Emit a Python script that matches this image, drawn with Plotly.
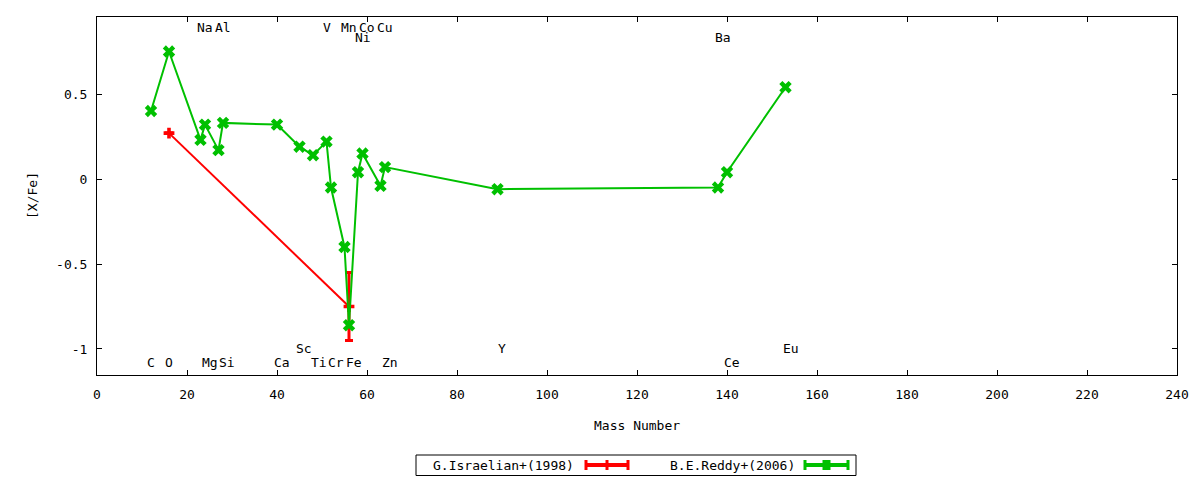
import plotly.graph_objects as go

# B.E.Reddy+(2006)
reddy_mass = [12, 16, 23, 24, 27, 28, 40, 45, 48, 51, 52, 55, 56, 58, 59, 63, 64, 89, 138, 140, 153]
reddy_xfe = [0.40, 0.75, 0.23, 0.32, 0.17, 0.33, 0.32, 0.19, 0.14, 0.22, -0.05, -0.40, -0.86,
             0.04, 0.15, -0.04, 0.07, -0.06, -0.05, 0.04, 0.54]

# G.Israelian+(1998)
isr_mass = [16, 56]
isr_xfe = [0.27, -0.75]
isr_err = [0.0, 0.2]

# element labels: name, x, y
label_names = ["C", "O", "Na", "Mg", "Al", "Si", "Ca", "Sc", "Ti", "V", "Cr", "Mn", "Fe",
               "Ni", "Co", "Cu", "Zn", "Y", "Ba", "Ce", "Eu"]
label_x = [12.1, 16.1, 24.0, 25.1, 27.9, 28.8, 41.1, 45.9, 49.3, 51.0, 53.1, 56.1, 57.1,
           59.1, 60.0, 64.1, 65.1, 89.9, 139.1, 141.0, 154.2]
label_y = [-1.08, -1.08, 0.89, -1.08, 0.89, -1.08, -1.08, -1.0, -1.08, 0.89, -1.08, 0.89, -1.08,
           0.83, 0.89, 0.89, -1.08, -1.0, 0.83, -1.08, -1.0]

RED = "#ff0000"
GREEN = "#00c000"
FONT = dict(family="DejaVu Sans Mono", size=13, color="black")

fig = go.Figure()
fig.add_trace(go.Scatter(
    x=isr_mass, y=isr_xfe, mode="lines+markers", name="G.Israelian+(1998)",
    line=dict(color=RED, width=2),
    marker=dict(symbol="cross", size=9, color=RED),
    error_y=dict(type="data", array=isr_err, color=RED, thickness=3, width=4),
))
fig.add_trace(go.Scatter(
    x=reddy_mass, y=reddy_xfe, mode="lines+markers", name="B.E.Reddy+(2006)",
    line=dict(color=GREEN, width=2),
    marker=dict(symbol="x", size=11, color=GREEN),
))

annotations = []
for name, lx, ly in zip(label_names, label_x, label_y):
    annotations.append(dict(x=lx, y=ly, xref="x", yref="y", text=name, showarrow=False,
                            xanchor="center", yanchor="middle", font=FONT))

# axis titles
annotations.append(dict(x=0.5, y=0, xref="paper", yref="paper", text="Mass Number",
                        showarrow=False, yshift=-50, xanchor="center", yanchor="middle", font=FONT))
annotations.append(dict(x=0, y=0.5, xref="paper", yref="paper", text="[X/Fe]",
                        showarrow=False, xshift=-65, xanchor="center", yanchor="middle",
                        textangle=-90, font=FONT))

# page body has an 8px margin; plot box wanted at 97..1177 x 17..375 in the window
OFF = 8
W, H = 1200 - OFF, 480 - OFF
L, R, T, B = 97, 1177, 17, 375


def px(v):
    return (v - L) / (R - L)


def py(v):
    return (B - v) / (B - T)


# custom gnuplot-like legend (text on the left, sample on the right)
shapes = [dict(type="rect", xref="paper", yref="paper", x0=px(416), x1=px(856),
               y0=py(455), y1=py(475.5), line=dict(color="black", width=1))]
legend_items = [("G.Israelian+(1998)", RED, 576, 586, 628, "bar"),
                ("B.E.Reddy+(2006)", GREEN, 797, 805, 848, "box")]
for text, col, tx, s0, s1, kind in legend_items:
    annotations.append(dict(x=px(tx), y=py(465), xref="paper", yref="paper", text=text,
                            showarrow=False, xanchor="right", yanchor="middle", font=FONT))
    shapes.append(dict(type="line", xref="paper", yref="paper", x0=px(s0), x1=px(s1),
                       y0=py(465), y1=py(465), line=dict(color=col, width=4)))
    for sx in (s0, s1):
        shapes.append(dict(type="line", xref="paper", yref="paper", x0=px(sx), x1=px(sx),
                           y0=py(460), y1=py(470), line=dict(color=col, width=3)))
    mid = (s0 + s1) / 2
    if kind == "bar":
        shapes.append(dict(type="line", xref="paper", yref="paper", x0=px(mid), x1=px(mid),
                           y0=py(460), y1=py(470), line=dict(color=col, width=3)))
    else:
        shapes.append(dict(type="rect", xref="paper", yref="paper", x0=px(mid - 4), x1=px(mid + 4),
                           y0=py(460), y1=py(470), line=dict(width=0), fillcolor=col))

axis_common = dict(showline=True, linecolor="black", linewidth=1, mirror="ticks",
                   ticks="inside", ticklen=5, tickcolor="black", showgrid=False,
                   zeroline=False, tickfont=FONT)

fig.update_layout(
    width=W, height=H,
    margin=dict(l=L - OFF, r=1200 - R, t=T - OFF, b=480 - B),
    paper_bgcolor="white", plot_bgcolor="white",
    showlegend=False,
    xaxis=dict(range=[0, 240], dtick=20, tick0=0, ticklabelstandoff=7, **axis_common),
    yaxis=dict(range=[-1.153, 0.953], tickvals=[-1, -0.5, 0, 0.5],
               ticktext=["-1", "-0.5", "0", "0.5"], ticklabelstandoff=6, **axis_common),
    annotations=annotations,
    shapes=shapes,
)

fig.write_html("out.html")
